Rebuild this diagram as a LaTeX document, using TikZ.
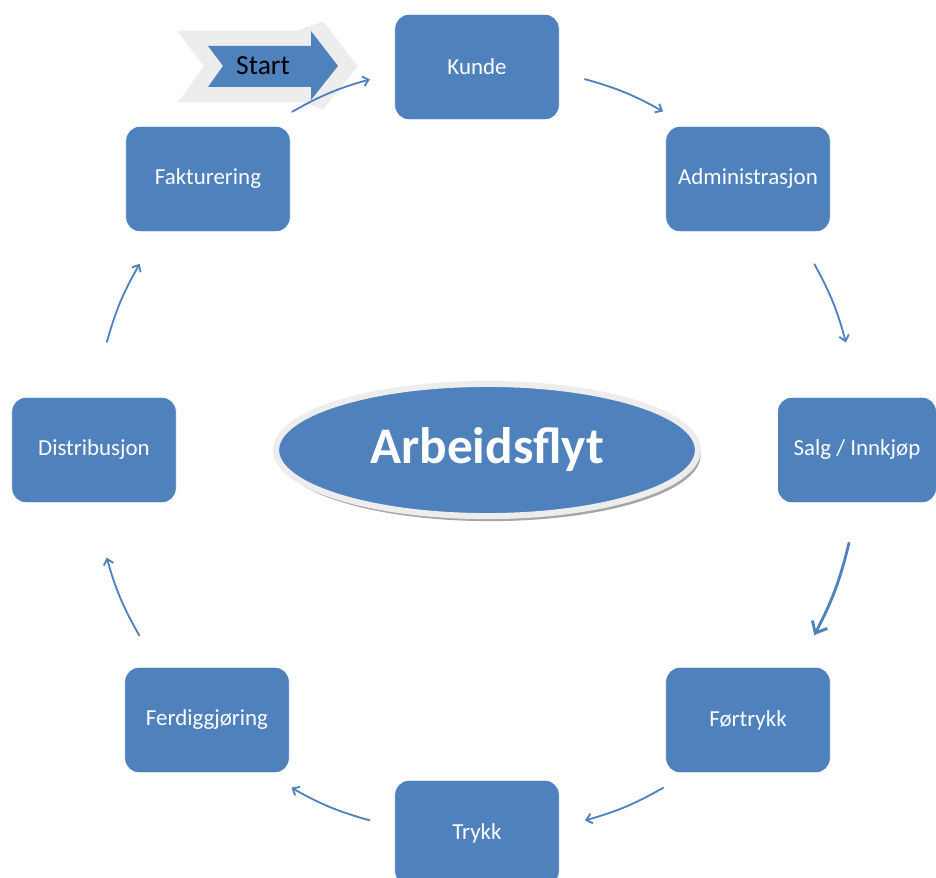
\documentclass[tikz,border=0pt]{standalone}
\usepackage{fontspec}
\setmainfont{Carlito}
\usetikzlibrary{shapes.geometric,arrows.meta,shadows}
\definecolor{officeblue}{HTML}{4F81BD}
\definecolor{rimgrey}{HTML}{EDEDED}

\begin{document}
\begin{tikzpicture}[x=0.025cm, y=0.025cm,
    task/.style={rectangle, rounded corners=10pt, fill=officeblue, draw=white,
      line width=0.6pt, text=white, inner sep=0pt,
      minimum width=117pt, minimum height=75pt,
      font=\fontsize{16.3}{19}\selectfont},
    flow/.style={draw=officeblue, line width=1.3pt, line cap=round,
      -{Straight Barb[length=4pt,width=7pt]}},
    mainflow/.style={flow, line width=2pt,
      -{Straight Barb[length=7pt,width=12pt]}}]
  %\draw[help lines] (0,0) grid (936,-878);
  \path[use as bounding box, fill=white] (0,0) rectangle (936,-878);

  % the eight steps
  \node[task] (kunde)    at (477,-67)  {Kunde};
  \node[task] (admin)    at (748,-179) {Administrasjon};
  \node[task, minimum width=113pt] (salg) at (857,-450) {Salg / Innkjøp};
  \node[task] (fortrykk) at (748,-720) {Førtrykk};
  \node[task] (trykk)    at (477,-833) {Trykk};
  \node[task] (ferdig)   at (207,-720) {Ferdiggjøring};
  \node[task] (distrib)  at (94,-450)  {Distribusjon};
  \node[task] (faktura)  at (208,-179) {Fakturering};

  % centre
  \node[ellipse, fill=officeblue, draw=rimgrey, line width=4.3pt,
    minimum width=300pt, minimum height=94pt, text=white,
    drop shadow={shadow xshift=2pt, shadow yshift=-3.6pt, fill=black!35, opacity=1},
    font=\fontsize{36.5}{40}\selectfont\bfseries] (flyt) at (487,-450) {Arbeidsflyt};

  % start arrow
  \draw[rimgrey, line width=22pt, line join=miter, miter limit=2.3, fill=rimgrey]
    (208,-46) -- (311,-46) -- (311,-31) -- (338,-66) -- (311,-100)
    -- (311,-87) -- (208,-87) -- (223,-66) -- cycle;
  \fill[officeblue]
    (208,-46) -- (311,-46) -- (311,-31) -- (338,-66) -- (311,-100)
    -- (311,-87) -- (208,-87) -- (223,-66) -- cycle;
  \node[font=\fontsize{19.6}{22}\selectfont] (start) at (263,-66) {Start};

  % the flow round the circle
  \foreach \a/\b/\st/\p [count=\i] in {kunde/admin/flow/.35, admin/salg/flow/.35,
      salg/fortrykk/mainflow/.3, fortrykk/trykk/flow/.35, trykk/ferdig/flow/.35,
      ferdig/distrib/flow/.35, distrib/faktura/flow/.35, faktura/kunde/flow/.35}{
    \path (\a.center) to[bend left=22.5]
      coordinate[pos=\p] (s\i) coordinate[pos=.65] (e\i) (\b.center);
    \draw[\st] (s\i) to[bend left=7] (e\i);
  }
\end{tikzpicture}
\end{document}
